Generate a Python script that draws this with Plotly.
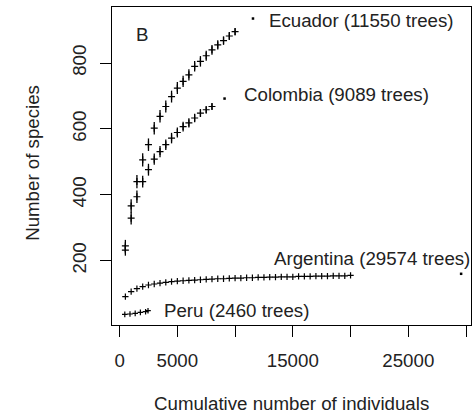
import plotly.graph_objects as go

# Rarefaction curves: cumulative individuals sampled vs. species observed
ecuador_n = [500, 1000, 1500, 2000, 2500, 3000, 3500, 4000, 4500, 5000,
             5500, 6000, 6500, 7000, 7500, 8000, 8500, 9000, 9500, 10000]
ecuador_s = [245, 366, 440, 506, 552, 602, 638, 668, 698, 724,
             744, 764, 790, 805, 822, 840, 855, 868, 882, 895]
ecuador_sd = [18, 20, 20, 20, 19, 19, 19, 18, 18, 18,
              17, 17, 16, 16, 15, 15, 14, 13, 12, 11]
ecuador_total = (11550, 935)

colombia_n = [500, 1000, 1500, 2000, 2500, 3000, 3500, 4000, 4500, 5000,
              5500, 6000, 6500, 7000, 7500, 8000]
colombia_s = [232, 329, 394, 440, 476, 508, 531, 552, 572, 589,
              607, 618, 633, 648, 658, 668]
colombia_sd = [17, 19, 19, 18, 18, 17, 17, 16, 16, 15,
               15, 14, 13, 12, 11, 10]
colombia_total = (9089, 692)

argentina_n = [500, 1000, 1500, 2000, 2500, 3000, 3500, 4000, 4500, 5000,
               5500, 6000, 6500, 7000, 7500, 8000, 8500, 9000, 9500, 10000,
               10500, 11000, 11500, 12000, 12500, 13000, 13500, 14000, 14500, 15000,
               15500, 16000, 16500, 17000, 17500, 18000, 18500, 19000, 19500, 20000]
argentina_s = [91, 106, 115, 121, 126, 129, 132, 134, 136, 138,
               139, 140, 141, 142, 143, 144, 145, 145, 146, 147,
               147, 148, 148, 149, 149, 150, 150, 151, 151, 151,
               152, 152, 152, 153, 153, 153, 154, 154, 154, 155]
argentina_total = (29574, 160)

peru_n = [450, 900, 1350, 1800, 2250, 2460]
peru_s = [37, 38, 40, 43, 45, 48]

panel_letter = "B"
x_title = "Cumulative number of individuals"
y_title = "Number of species"
x_tickvals = [0, 5000, 10000, 15000, 20000, 25000, 30000]
x_ticktext = ["0", "5000", "", "15000", "", "25000", ""]
y_tickvals = [200, 400, 600, 800]

FONT = "Liberation Sans, Arial, sans-serif"
FS = 18.7
INK = "#222222"

fig = go.Figure()

def sampled(xs, ys, sd=None, size=5):
    kw = {}
    if sd is not None:
        kw["error_y"] = dict(type="data", array=sd, visible=True,
                             color="black", thickness=1.3, width=0)
    fig.add_trace(go.Scatter(
        x=xs, y=ys, mode="markers",
        marker=dict(symbol="cross-thin", size=size,
                    line=dict(color="black", width=1.2)),
        showlegend=False, hoverinfo="skip", **kw))

def final_dot(pt):
    fig.add_trace(go.Scatter(
        x=[pt[0]], y=[pt[1]], mode="markers",
        marker=dict(symbol="square", size=2.5, color="black"),
        showlegend=False, hoverinfo="skip"))

sampled(ecuador_n, ecuador_s, ecuador_sd)
sampled(colombia_n, colombia_s, colombia_sd)
sampled(argentina_n, argentina_s, size=4.5)
sampled(peru_n, peru_s, size=4)
final_dot(ecuador_total)
final_dot(colombia_total)
final_dot(argentina_total)

labels = [
    ("Ecuador (11550 trees)", ecuador_total, "left", 14, -2),
    ("Colombia (9089 trees)", colombia_total, "left", 17, 4),
    ("Argentina (29574 trees)", argentina_total, "right", 11, 15),
    ("Peru (2460 trees)", (peru_n[-1], peru_s[-1]), "left", 14, 0),
]
for text, (px, py), anchor, dx, dy in labels:
    fig.add_annotation(x=px, y=py, xref="x", yref="y", text=text,
                       showarrow=False, xanchor=anchor, yanchor="middle",
                       xshift=dx, yshift=dy,
                       font=dict(family=FONT, size=FS, color=INK))

fig.add_annotation(x=0.083, y=0.914, xref="paper", yref="paper",
                   text=panel_letter, showarrow=False,
                   xanchor="center", yanchor="middle",
                   font=dict(family=FONT, size=FS, color=INK))
fig.add_annotation(x=0.5, y=-0.246, xref="paper", yref="paper",
                   text=x_title, showarrow=False,
                   xanchor="center", yanchor="middle",
                   font=dict(family=FONT, size=FS, color=INK))
fig.add_annotation(x=-0.22, y=0.51, xref="paper", yref="paper",
                   text=y_title, showarrow=False, textangle=-90,
                   xanchor="center", yanchor="middle",
                   font=dict(family=FONT, size=FS, color=INK))

axis_common = dict(showgrid=False, zeroline=False, showline=True,
                   linecolor="black", linewidth=1.2, mirror=True,
                   ticks="outside", ticklen=11, tickwidth=1.1,
                   tickcolor="black",
                   tickfont=dict(family=FONT, size=FS, color=INK))

fig.update_xaxes(range=[-658, 30430], tickvals=x_tickvals,
                 ticktext=x_ticktext, ticklabelstandoff=7, **axis_common)
fig.update_yaxes(range=[4.6, 970], tickvals=y_tickvals,
                 tickangle=-90, ticklabelstandoff=6, **axis_common)

fig.update_layout(width=475, height=414,
                  margin=dict(l=112, r=4, t=7, b=89, pad=0),
                  paper_bgcolor="white", plot_bgcolor="white")

fig.write_html("out.html")
